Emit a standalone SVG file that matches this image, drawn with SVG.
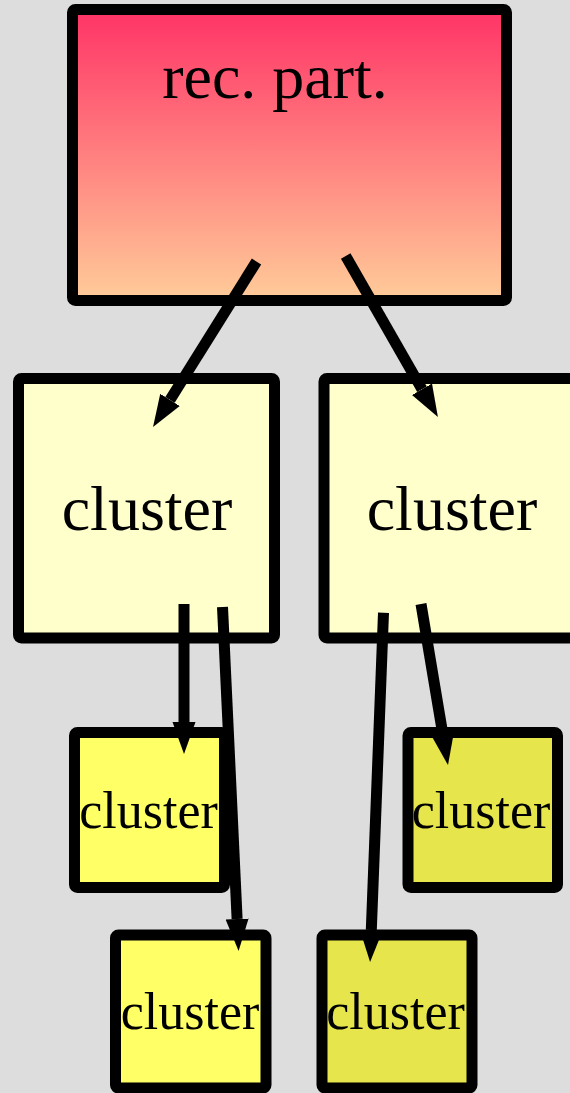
<svg xmlns="http://www.w3.org/2000/svg" width="570" height="1093" viewBox="0 0 570 1093">
  <defs>
    <linearGradient id="topFill" x1="0" y1="0" x2="0" y2="1">
      <stop offset="0" stop-color="#ff3366"/>
      <stop offset="1" stop-color="#ffcc99"/>
    </linearGradient>
    <marker id="head" markerUnits="userSpaceOnUse" markerWidth="33" markerHeight="24" viewBox="0 -12 33 24" refX="0" refY="0" orient="auto">
      <path d="M0,-11.5 L32,0 L0,11.5 Z" fill="#000"/>
    </marker>
    <style>
      .fill { stroke: none; }
      .outline { fill: none; stroke: #000; stroke-width: 11; }
      .edge { fill: none; stroke: #000; stroke-width: 11; marker-end: url(#head); }
      .label { font-family: "Liberation Serif", "Times New Roman", serif; fill: #000; text-anchor: middle; }
      .big { font-size: 64px; }
      .small { font-size: 52px; }
    </style>
  </defs>

  <rect x="0" y="0" width="570" height="1093" fill="#dddddd"/>

  <!-- node bodies -->
  <g id="rec-part">
    <rect class="fill" x="72.5" y="9.5" width="434" height="291" fill="url(#topFill)"/>
    <text class="label big" x="275" y="98">rec. part.</text>
  </g>
  <g id="cluster-left">
    <rect class="fill" x="18.5" y="378.5" width="256" height="259.5" fill="#ffffcc"/>
    <text class="label big" x="147" y="530">cluster</text>
  </g>
  <g id="cluster-right">
    <rect class="fill" x="324" y="378.5" width="256" height="259.5" fill="#ffffcc"/>
    <text class="label big" x="452" y="530">cluster</text>
  </g>
  <g id="cluster-left-a">
    <rect class="fill" x="74.5" y="732.5" width="150" height="155" fill="#ffff66"/>
    <text class="label small" x="148.5" y="828">cluster</text>
  </g>
  <g id="cluster-right-b">
    <rect class="fill" x="408" y="732.5" width="149.5" height="155" fill="#e6e64c"/>
    <text class="label small" x="481" y="828">cluster</text>
  </g>
  <g id="cluster-left-c">
    <rect class="fill" x="115.5" y="935" width="150.5" height="153" fill="#ffff66"/>
    <text class="label small" x="190" y="1029">cluster</text>
  </g>
  <g id="cluster-right-d">
    <rect class="fill" x="322" y="935" width="150" height="153" fill="#e6e64c"/>
    <text class="label small" x="395.5" y="1029">cluster</text>
  </g>

  <!-- connectors -->
  <g id="connectors">
    <path class="edge" d="M256.5,261.5 L170,399.9"/>
    <path class="edge" d="M345.7,256 L422,389.3"/>
    <path class="edge" d="M184,604 L184,722"/>
    <path class="edge" d="M222.5,607 L237.1,919"/>
    <path class="edge" d="M383.5,612.7 L371.3,930"/>
    <path class="edge" d="M421,604 L442.7,733.5"/>
  </g>

  <!-- node borders, drawn above the connectors -->
  <g id="node-borders">
    <rect class="outline" x="72.5" y="9.5" width="434" height="291" rx="3"/>
    <rect class="outline" x="18.5" y="378.5" width="256" height="259.5" rx="3"/>
    <rect class="outline" x="324" y="378.5" width="256" height="259.5" rx="3"/>
    <rect class="outline" x="74.5" y="732.5" width="150" height="155" rx="3"/>
    <rect class="outline" x="408" y="732.5" width="149.5" height="155" rx="3"/>
    <rect class="outline" x="115.5" y="935" width="150.5" height="153" rx="3"/>
    <rect class="outline" x="322" y="935" width="150" height="153" rx="3"/>
  </g>
</svg>
